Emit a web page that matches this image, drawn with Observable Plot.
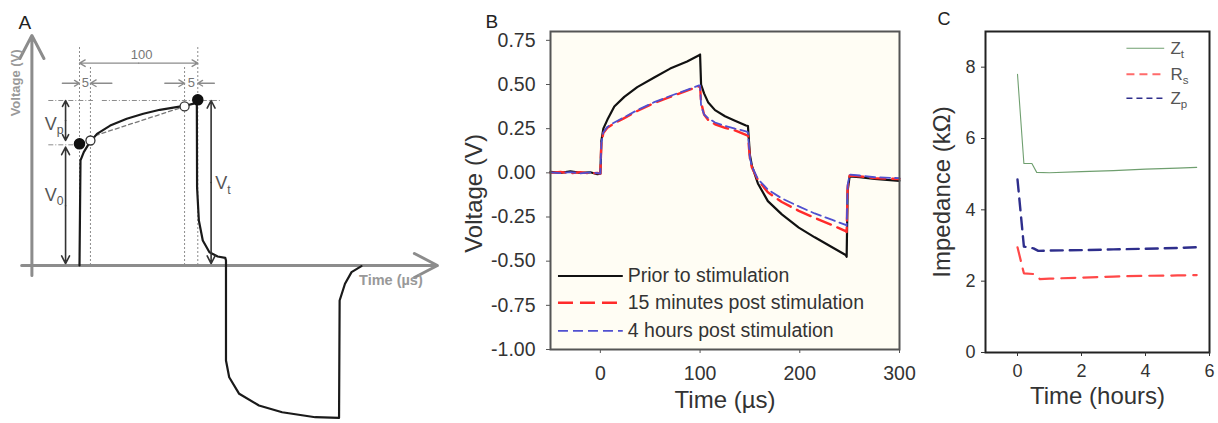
<!DOCTYPE html>
<html>
<head>
<meta charset="utf-8">
<script src="https://cdn.jsdelivr.net/npm/d3@7"></script>
<script src="https://cdn.jsdelivr.net/npm/@observablehq/plot@0.6"></script>
<style>
  html, body { margin: 0; padding: 0; background: #fff; }
  #wrap { position: relative; width: 1218px; height: 423px; overflow: hidden; }
  .panel { position: absolute; top: 0; }
</style>
</head>
<body>
<div id="wrap">
  <div id="pa" class="panel" style="left:0px"></div>
  <div id="pb" class="panel" style="left:455px"></div>
  <div id="pc" class="panel" style="left:905px"></div>
</div>
<script>
// ---------------- Panel A (schematic, units: µs and V) ----------------
const pulseT = [0, 0.83, 3.6, 7.8, 14.7, 25.8, 39.7, 53.6, 67.5, 81.4, 89.7, 96, 98.6, 98.8, 100.3, 103.6, 109.2, 116.1, 122.5, 123.1, 123.1, 125.8, 134.2, 150.8, 170.3, 198.1, 218.1, 218.6, 223.1, 228.6, 236.9];
const pulseV = [0, 0.633, 0.683, 0.733, 0.793, 0.843, 0.884, 0.914, 0.938, 0.954, 0.964, 0.975, 0.99, 0.47, 0.271, 0.151, 0.080, 0.054, 0.046, 0.030, -0.572, -0.673, -0.773, -0.843, -0.884, -0.914, -0.918, -0.211, -0.110, -0.040, -0.004];
const filledT = [0, 99.4], filledV = [0.733, 0.998];
const openT = [9.2, 88.3], openV = [0.753, 0.958];
const slopeT = [13.3, 88.3], slopeV = [0.783, 0.958];
const guideT = [0, 9.2, 88.3, 99.4], guideTop = [1.313, 1.2, 1.2, 1.313];
const hGuides = [[-25.8, 11.7, 0.994], [19.2, 119, 0.994], [-25.8, -0.8, 0.727]];
const axesA = [[-48.6, 0, 300.8, 0], [-40, -0.06, -40, 1.386]];
const dimArrows = [[49.7, 1.219, 0, 1.219], [49.7, 1.219, 99.4, 1.219],
                   [-14.4, 1.098, 0, 1.098], [27.2, 1.098, 9.2, 1.098],
                   [71.7, 1.098, 88.3, 1.098], [113.3, 1.098, 99.4, 1.098]];
const voltArrows = [[-11.7, 0.873, -11.7, 0.994], [-11.7, 0.873, -11.7, 0.753],
                    [-11.7, 0.36, -11.7, 0.713], [-11.7, 0.36, -11.7, 0.012],
                    [110.6, 0.5, 110.6, 0.994], [110.6, 0.5, 110.6, 0.012]];
const labelsA = [{t: 52.2, v: 1.271, s: "100", f: 13}, {t: 5, v: 1.098, s: "5", f: 13}, {t: 94, v: 1.098, s: "5", f: 13}];
const vLabelsA = [{t: -21.4, v: 0.853, s: "V_p"}, {t: -21.4, v: 0.422, s: "V_0"}, {t: 120.5, v: 0.494, s: "V_t"}];

// ---------------- Panel B ----------------
const timeB = [-50,-40,-30,-20,-10,-3,0,1,3,7,14,24,37,54,70,87,99,100,101,104,108,115,125,135,146,148,150,152,158,168,182,199,215,232,246,247,248,250,260,275,300];
const priorV = [0.005,0.0,0.008,0.0,0.003,-0.008,-0.005,0.18,0.25,0.30,0.375,0.43,0.485,0.54,0.59,0.63,0.665,0.67,0.50,0.45,0.40,0.355,0.32,0.295,0.268,0.265,0.10,0.04,-0.06,-0.16,-0.235,-0.31,-0.365,-0.42,-0.465,-0.475,-0.10,-0.02,-0.025,-0.035,-0.045];
const min15V = [0.0,0.005,-0.003,0.004,-0.004,0.0,-0.005,0.17,0.225,0.255,0.28,0.31,0.35,0.395,0.43,0.465,0.49,0.49,0.40,0.33,0.30,0.275,0.255,0.24,0.215,0.21,0.08,0.03,-0.04,-0.11,-0.165,-0.215,-0.255,-0.295,-0.33,-0.335,-0.08,-0.015,-0.02,-0.03,-0.035];
const hr4V  = [0.003,-0.002,0.004,-0.003,0.003,-0.002,-0.004,0.17,0.23,0.26,0.285,0.315,0.355,0.40,0.435,0.47,0.495,0.495,0.38,0.33,0.31,0.285,0.265,0.25,0.235,0.23,0.085,0.035,-0.035,-0.095,-0.145,-0.19,-0.23,-0.265,-0.295,-0.30,-0.07,-0.01,-0.015,-0.025,-0.03];
const yTicksB = [-1, -0.75, -0.5, -0.25, 0, 0.25, 0.5, 0.75];
const xTicksB = [0, 100, 200, 300];
const legendB = ["Prior to stimulation", "15 minutes post stimulation", "4 hours post stimulation"];
const legendBy = [-0.584, -0.735, -0.895];

// ---------------- Panel C ----------------
const ztH = [0, 0.2, 0.45, 0.6, 1, 2, 3, 4, 5, 5.6];
const ztV = [7.8, 5.3, 5.3, 5.05, 5.04, 5.07, 5.1, 5.14, 5.17, 5.19];
const rsH = [0, 0.2, 0.5, 0.7, 1, 2, 3, 4, 5, 5.6];
const rsV = [2.95, 2.22, 2.2, 2.06, 2.07, 2.1, 2.13, 2.15, 2.16, 2.17];
const zpH = [0, 0.2, 0.5, 0.65, 1, 2, 3, 4, 5, 5.6];
const zpV = [4.85, 2.97, 2.92, 2.85, 2.86, 2.87, 2.89, 2.91, 2.93, 2.95];
const yTicksC = [0, 2, 4, 6, 8];
const xTicksC = [0, 2, 4, 6];
const legendC = ["Z_t", "R_s", "Z_p"];
const legendCy = [8.53, 7.8, 7.13];

const font = "'Liberation Sans', Arial, Helvetica, sans-serif";
const gray = "#8c8c8c";
const zip = (a, b) => a.map((x, i) => ({x, y: b[i]}));
const seg = arr => arr.map(([x1, y1, x2, y2]) => ({x1, y1, x2, y2}));

function subscripts(svg) {
  d3.select(svg).selectAll("text").each(function () {
    const t = this.textContent;
    if (/^[^_]+_[^_]+$/.test(t)) {
      const [a, b] = t.split("_");
      this.textContent = a;
      d3.select(this).append("tspan").attr("dy", "0.35em").attr("font-size", "0.68em").text(b);
    }
  });
  return svg;
}

// Panel A
const plotA = Plot.plot({
  width: 450, height: 423, margin: 0,
  x: {domain: [0, 100], range: [79, 198], axis: null},
  y: {domain: [0, 1], range: [265, 99], axis: null},
  style: {fontFamily: font, fontSize: "13px", background: "transparent", overflow: "visible"},
  marks: [
    Plot.ruleX(guideT.map((t, i) => ({t, top: guideTop[i]})), {x: "t", y1: 0, y2: "top", stroke: gray, strokeWidth: 1, strokeDasharray: "2,2"}),
    Plot.ruleY(hGuides.map(([a, b, v]) => ({a, b, v})), {y: "v", x1: "a", x2: "b", stroke: gray, strokeWidth: 1, strokeDasharray: "5,2,1,2"}),
    Plot.arrow(seg(axesA), {x1: "x1", y1: "y1", x2: "x2", y2: "y2", stroke: gray, strokeWidth: 3, headLength: 13, headAngle: 55}),
    Plot.line(zip(slopeT, slopeV), {x: "x", y: "y", stroke: "#777", strokeWidth: 1.3, strokeDasharray: "4,3"}),
    Plot.line(zip(pulseT, pulseV), {x: "x", y: "y", stroke: "#1a1a1a", strokeWidth: 2.2}),
    Plot.dot(zip(filledT, filledV), {x: "x", y: "y", r: 5, fill: "#111", stroke: "#111"}),
    Plot.dot(zip(openT, openV), {x: "x", y: "y", r: 4.5, fill: "#fff", stroke: "#333", strokeWidth: 1.3}),
    Plot.arrow(seg(dimArrows), {x1: "x1", y1: "y1", x2: "x2", y2: "y2", stroke: gray, strokeWidth: 1.4, headLength: 7, headAngle: 60}),
    Plot.arrow(seg(voltArrows), {x1: "x1", y1: "y1", x2: "x2", y2: "y2", stroke: "#333", strokeWidth: 1.6, headLength: 8, headAngle: 55}),
    Plot.text(labelsA, {x: "t", y: "v", text: "s", fontSize: 13, fill: "#777"}),
    Plot.text(vLabelsA, {x: "t", y: "v", text: "s", fontSize: 18, fill: "#555"}),
    Plot.text(["Voltage (V)"], {x: -53.3, y: 1.10, rotate: -90, textAnchor: "middle", fontSize: 13, fill: "#999", fontWeight: "bold"}),
    Plot.text(["Time (\u00b5s)"], {x: 261.7, y: -0.09, fontSize: 14.5, fill: "#999", fontWeight: "bold"}),
    Plot.text(["A"], {frameAnchor: "top-left", dx: 18, dy: 15, fontSize: 19, fill: "#222"})
  ]
});
document.getElementById("pa").appendChild(subscripts(plotA));

// Panel B
const rowsB = timeB.map((t, i) => ({t, prior: priorV[i], m15: min15V[i], h4: hr4V[i]}));
const legRowsB = legendB.map((s, i) => ({s, y: legendBy[i]}));
const plotB = Plot.plot({
  width: 450, height: 423, marginLeft: 95, marginRight: 6, marginTop: 31, marginBottom: 74,
  x: {domain: [-50, 300]},
  y: {domain: [-1, 0.8]},
  style: {fontFamily: font, fontSize: "19.5px", color: "#333", background: "transparent", overflow: "visible"},
  marks: [
    Plot.frame({fill: "#fffdf4"}),
    Plot.line(rowsB, {x: "t", y: "prior", stroke: "#111", strokeWidth: 2.2}),
    Plot.line(rowsB, {x: "t", y: "m15", stroke: "#ff2a2a", strokeWidth: 2.4, strokeDasharray: "15,7"}),
    Plot.line(rowsB, {x: "t", y: "h4", stroke: "#5050d0", strokeWidth: 1.8, strokeDasharray: "10,5"}),
    Plot.ruleY([legRowsB[0]], {y: "y", x1: -42, x2: 23, stroke: "#111", strokeWidth: 2.2}),
    Plot.ruleY([legRowsB[1]], {y: "y", x1: -42, x2: 23, stroke: "#ff2a2a", strokeWidth: 2.4, strokeDasharray: "15,7"}),
    Plot.ruleY([legRowsB[2]], {y: "y", x1: -42, x2: 23, stroke: "#5050d0", strokeWidth: 1.8, strokeDasharray: "10,5"}),
    Plot.text(legRowsB, {x: 27.5, y: "y", text: "s", textAnchor: "start", fontSize: 19.5, fill: "#333"}),
    Plot.frame({stroke: "#555", strokeWidth: 2}),
    Plot.axisY({ticks: yTicksB, tickFormat: d => d.toFixed(2), tickSize: 4, tickPadding: 11, label: null, stroke: "#555"}),
    Plot.axisX({ticks: xTicksB, tickFormat: d => String(d), tickSize: 4, tickPadding: 13, label: null, stroke: "#555"}),
    Plot.text(["Voltage (V)"], {frameAnchor: "left", dx: -76, dy: 3, rotate: -90, textAnchor: "middle", fontSize: 24, fill: "#333"}),
    Plot.text(["Time (\u00b5s)"], {frameAnchor: "bottom", dy: 58, textAnchor: "middle", fontSize: 24, fill: "#333"}),
    Plot.text(["B"], {frameAnchor: "top-left", dx: -65, dy: -17, fontSize: 19, fill: "#222"})
  ]
});
document.getElementById("pb").appendChild(plotB);

// Panel C
const legRowsC = legendC.map((s, i) => ({s, y: legendCy[i]}));
const plotC = Plot.plot({
  width: 313, height: 423, marginLeft: 80, marginRight: 9, marginTop: 31, marginBottom: 71,
  x: {domain: [-1, 6]},
  y: {domain: [0, 9]},
  style: {fontFamily: font, fontSize: "18px", color: "#333", background: "transparent", overflow: "visible"},
  marks: [
    Plot.line(zip(ztH, ztV), {x: "x", y: "y", stroke: "#6f9f6f", strokeWidth: 1.1}),
    Plot.line(zip(rsH, rsV), {x: "x", y: "y", stroke: "#ff4848", strokeWidth: 2.2, strokeDasharray: "14,8"}),
    Plot.line(zip(zpH, zpV), {x: "x", y: "y", stroke: "#2e2e8c", strokeWidth: 2.4, strokeDasharray: "12,7"}),
    Plot.ruleY([legRowsC[0]], {y: "y", x1: 3.42, x2: 4.6, stroke: "#6f9f6f", strokeWidth: 1.1}),
    Plot.ruleY([legRowsC[1]], {y: "y", x1: 3.42, x2: 4.6, stroke: "#ff6b6b", strokeWidth: 2, strokeDasharray: "8,5"}),
    Plot.ruleY([legRowsC[2]], {y: "y", x1: 3.42, x2: 4.6, stroke: "#2e2e8c", strokeWidth: 1.6, strokeDasharray: "6,4"}),
    Plot.text(legRowsC, {x: 4.78, y: "y", text: "s", textAnchor: "start", fontSize: 17, fill: "#555"}),
    Plot.frame({stroke: "#222", strokeWidth: 2}),
    Plot.axisY({ticks: yTicksC, tickFormat: d => String(d), tickSize: 4, tickPadding: 6, label: null, stroke: "#333"}),
    Plot.axisX({ticks: xTicksC, tickFormat: d => String(d), tickSize: 4, tickPadding: 8, label: null, stroke: "#333"}),
    Plot.text(["Impedance (k\u03a9)"], {frameAnchor: "left", dx: -43, rotate: -90, textAnchor: "middle", fontSize: 24, fill: "#333"}),
    Plot.text(["Time (hours)"], {frameAnchor: "bottom", dy: 51, textAnchor: "middle", fontSize: 24, fill: "#333"}),
    Plot.text(["C"], {frameAnchor: "top-left", dx: -48, dy: -19, fontSize: 18, fill: "#222"})
  ]
});
document.getElementById("pc").appendChild(subscripts(plotC));
</script>
</body>
</html>
